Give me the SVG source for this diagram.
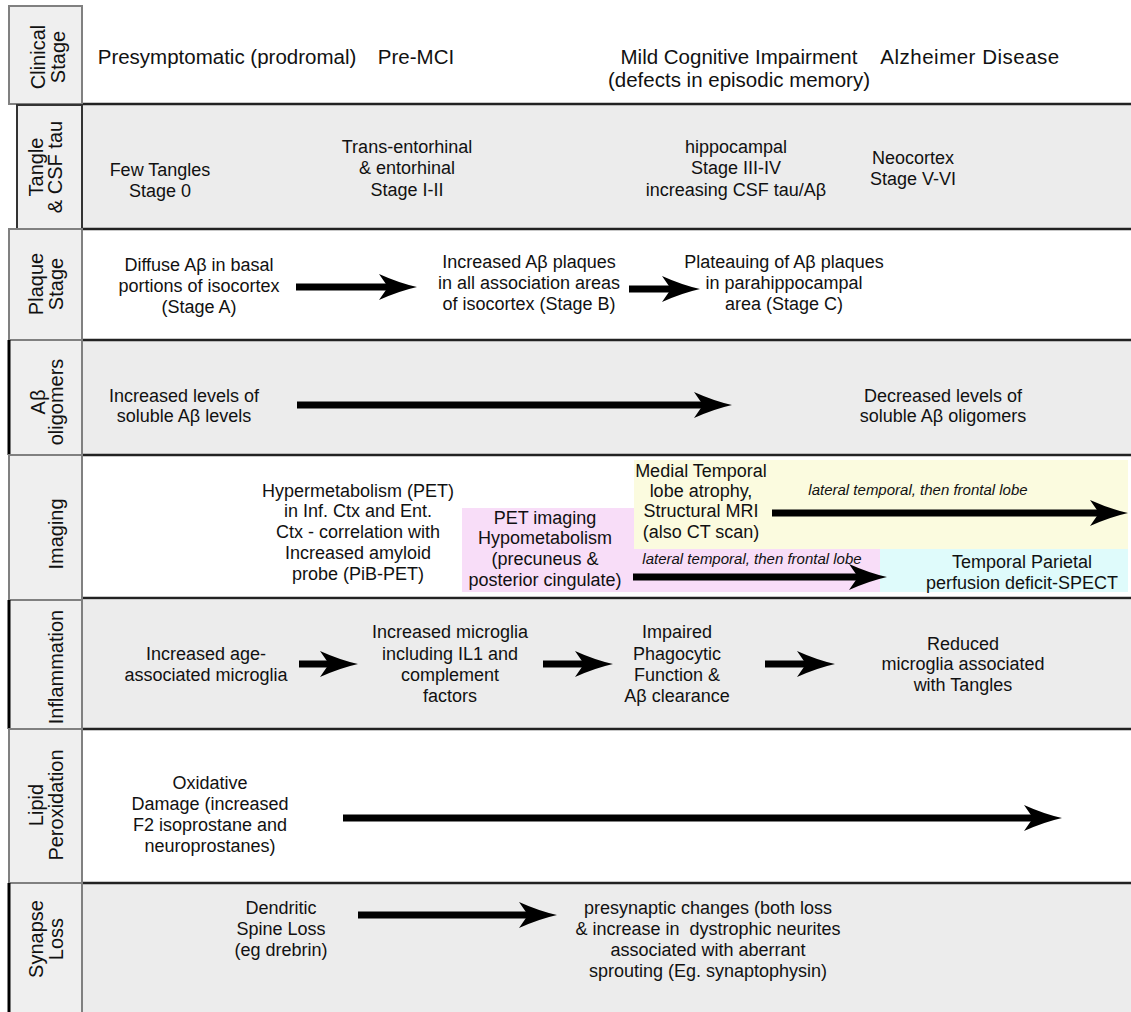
<svg xmlns="http://www.w3.org/2000/svg" width="1131" height="1012" viewBox="0 0 1131 1012">
<style>
text{font-family:"Liberation Sans",Arial,sans-serif;fill:#111;}
.b{font-size:18px;text-anchor:middle;}
.c{font-size:20.5px;text-anchor:middle;}
.lab{font-size:20px;text-anchor:middle;}
.it{font-size:15px;font-style:italic;text-anchor:middle;}
.row{stroke:#222;stroke-width:2.5;}
.gray{fill:#ececec;}
.cell{fill:#efefef;stroke:#808080;stroke-width:2;}
.dark{fill:#efefef;stroke:#333;stroke-width:2;}
.thick{stroke:#000;stroke-width:3;}
.arr{stroke:#000;stroke-width:7;fill:none;marker-end:url(#ah);}
</style>
<defs>
<marker id="ah" markerUnits="userSpaceOnUse" markerWidth="38" markerHeight="26" viewBox="0 0 38 26" refX="12" refY="13" orient="auto">
<path d="M0,0 Q20,9 38,13 Q20,17 0,26 L9,13 Z" fill="#000"/>
</marker>
</defs>
<rect width="1131" height="1012" fill="#fff"/>
<g id="row-fills">
<rect class="gray" x="82" y="105" width="1049" height="124"/>
<rect class="gray" x="82" y="341" width="1049" height="114"/>
<rect class="gray" x="82" y="600" width="1049" height="129"/>
<rect class="gray" x="82" y="883" width="1049" height="129"/>
<rect x="462" y="508" width="418" height="84" fill="#f8ddf8"/>
<rect x="634" y="460" width="494" height="89" fill="#fbfbdf"/>
<rect x="880" y="549" width="248" height="43" fill="#dffbfb"/>
</g>
<g id="row-lines">
<line class="row" x1="82" y1="104" x2="1131" y2="104"/>
<line class="row" x1="82" y1="229" x2="1131" y2="229"/>
<line class="row" x1="82" y1="340" x2="1131" y2="340"/>
<line class="row" x1="82" y1="455" x2="1131" y2="455"/>
<line class="row" x1="82" y1="598" x2="1131" y2="598"/>
<line class="row" x1="82" y1="729" x2="1131" y2="729"/>
<line class="row" x1="82" y1="883" x2="1131" y2="883"/>
</g>
<g id="label-clinical">
<rect class="cell" x="9" y="6" width="73" height="98"/>
<text class="lab" transform="translate(0,57) rotate(-90)"><tspan x="0" y="45">Clinical</tspan><tspan x="0" y="65">Stage</tspan></text>
</g>
<g id="label-tangle">
<rect class="dark" x="17" y="105" width="65" height="124"/>
<text class="lab" transform="translate(0,167) rotate(-90)"><tspan x="0" y="43">Tangle</tspan><tspan x="0" y="62">&amp; CSF tau</tspan></text>
</g>
<g id="label-plaque">
<rect class="cell" x="9" y="229" width="73" height="111"/>
<text class="lab" transform="translate(0,284) rotate(-90)"><tspan x="0" y="43">Plaque</tspan><tspan x="0" y="63">Stage</tspan></text>
</g>
<g id="label-oligomers">
<rect class="cell" x="9" y="340" width="73" height="115"/>
<line class="thick" x1="9" y1="340" x2="9" y2="455"/>
<text class="lab" transform="translate(0,402) rotate(-90)"><tspan x="0" y="45">Aβ</tspan><tspan x="0" y="63">oligomers</tspan></text>
</g>
<g id="label-imaging">
<rect class="cell" x="9" y="455" width="73" height="145"/>
<text class="lab" transform="translate(0,534) rotate(-90)"><tspan x="0" y="63">Imaging</tspan></text>
</g>
<g id="label-inflammation">
<rect class="cell" x="9" y="600" width="73" height="129"/>
<line class="thick" x1="9" y1="600" x2="9" y2="729"/>
<text class="lab" transform="translate(0,667) rotate(-90)"><tspan x="0" y="63">Inflammation</tspan></text>
</g>
<g id="label-lipid">
<rect class="cell" x="9" y="729" width="73" height="154"/>
<text class="lab" transform="translate(0,805) rotate(-90)"><tspan x="0" y="43">Lipid</tspan><tspan x="0" y="63">Peroxidation</tspan></text>
</g>
<g id="label-synapse">
<rect class="cell" x="9" y="883" width="73" height="135"/>
<line class="thick" x1="9" y1="883" x2="9" y2="1012"/>
<text class="lab" transform="translate(0,939) rotate(-90)"><tspan x="0" y="43">Synapse</tspan><tspan x="0" y="63">Loss</tspan></text>
</g>
<g id="clinical">
<text class="c" x="227" y="64">Presymptomatic (prodromal)</text>
<text class="c" x="416" y="64">Pre-MCI</text>
<text class="c" x="739" y="64">Mild Cognitive Impairment</text>
<text class="c" x="739" y="87">(defects in episodic memory)</text>
<text class="c" x="970" y="64" font-size="21" letter-spacing="0.5">Alzheimer Disease</text>
</g>
<g id="tangle">
<text class="b"><tspan x="160" y="176">Few Tangles</tspan><tspan x="160" y="197">Stage 0</tspan></text>
<text class="b"><tspan x="407" y="153">Trans-entorhinal</tspan><tspan x="407" y="174">&amp; entorhinal</tspan><tspan x="407" y="196">Stage I-II</tspan></text>
<text class="b"><tspan x="736" y="153">hippocampal</tspan><tspan x="736" y="174">Stage III-IV</tspan><tspan x="736" y="196">increasing CSF tau/Aβ</tspan></text>
<text class="b"><tspan x="913" y="164">Neocortex</tspan><tspan x="913" y="185">Stage V-VI</tspan></text>
</g>
<g id="plaque">
<text class="b"><tspan x="199" y="271">Diffuse Aβ in basal</tspan><tspan x="199" y="292">portions of isocortex</tspan><tspan x="199" y="313">(Stage A)</tspan></text>
<text class="b"><tspan x="529" y="268">Increased Aβ plaques</tspan><tspan x="529" y="289">in all association areas</tspan><tspan x="529" y="310">of isocortex (Stage B)</tspan></text>
<text class="b"><tspan x="784" y="268">Plateauing of Aβ plaques</tspan><tspan x="784" y="289">in parahippocampal</tspan><tspan x="784" y="310">area (Stage C)</tspan></text>
</g>
<g id="oligomers">
<text class="b"><tspan x="184" y="402">Increased levels of</tspan><tspan x="184" y="422">soluble Aβ levels</tspan></text>
<text class="b"><tspan x="943" y="402">Decreased levels of</tspan><tspan x="943" y="422">soluble Aβ oligomers</tspan></text>
</g>
<g id="imaging">
<text class="b"><tspan x="358" y="497">Hypermetabolism (PET)</tspan><tspan x="358" y="517">in Inf. Ctx and Ent.</tspan><tspan x="358" y="538">Ctx - correlation with</tspan><tspan x="358" y="559">Increased amyloid</tspan><tspan x="358" y="580">probe (PiB-PET)</tspan></text>
<text class="b"><tspan x="545" y="524">PET imaging</tspan><tspan x="545" y="544">Hypometabolism</tspan><tspan x="545" y="565">(precuneus &amp;</tspan><tspan x="545" y="586">posterior cingulate)</tspan></text>
<text class="b"><tspan x="701" y="477">Medial Temporal</tspan><tspan x="701" y="497">lobe atrophy,</tspan><tspan x="701" y="517">Structural MRI</tspan><tspan x="701" y="538">(also CT scan)</tspan></text>
<text class="it" x="918" y="495">lateral temporal, then frontal lobe</text>
<text class="it" x="752" y="564">lateral temporal, then frontal lobe</text>
<text class="b"><tspan x="1022" y="568">Temporal Parietal</tspan><tspan x="1022" y="589">perfusion deficit-SPECT</tspan></text>
</g>
<g id="inflammation">
<text class="b"><tspan x="206" y="660">Increased age-</tspan><tspan x="206" y="681">associated microglia</tspan></text>
<text class="b"><tspan x="450" y="638">Increased microglia</tspan><tspan x="450" y="660">including IL1 and</tspan><tspan x="450" y="681">complement</tspan><tspan x="450" y="702">factors</tspan></text>
<text class="b"><tspan x="677" y="638">Impaired</tspan><tspan x="677" y="660">Phagocytic</tspan><tspan x="677" y="681">Function &amp;</tspan><tspan x="677" y="702">Aβ clearance</tspan></text>
<text class="b"><tspan x="963" y="650">Reduced</tspan><tspan x="963" y="670">microglia associated</tspan><tspan x="963" y="691">with Tangles</tspan></text>
</g>
<g id="lipid">
<text class="b"><tspan x="210" y="789">Oxidative</tspan><tspan x="210" y="810">Damage (increased</tspan><tspan x="210" y="831">F2 isoprostane and</tspan><tspan x="210" y="852">neuroprostanes)</tspan></text>
</g>
<g id="synapse">
<text class="b"><tspan x="281" y="914">Dendritic</tspan><tspan x="281" y="935">Spine Loss</tspan><tspan x="281" y="956">(eg drebrin)</tspan></text>
<text class="b" xml:space="preserve"><tspan x="708" y="914">presynaptic changes (both loss</tspan><tspan x="708" y="935">&amp; increase in  dystrophic neurites</tspan><tspan x="708" y="956">associated with aberrant</tspan><tspan x="708" y="977">sprouting (Eg. synaptophysin)</tspan></text>
</g>
<g id="connectors">
<line class="arr" x1="296" y1="287" x2="391" y2="287"/>
<line class="arr" x1="629" y1="289" x2="674" y2="289"/>
<line class="arr" x1="297" y1="405" x2="706" y2="405"/>
<line class="arr" x1="772" y1="513" x2="1102" y2="513"/>
<line class="arr" x1="633" y1="577" x2="861" y2="577"/>
<line class="arr" x1="299" y1="664" x2="332" y2="664"/>
<line class="arr" x1="543" y1="664" x2="587" y2="664"/>
<line class="arr" x1="765" y1="664" x2="809" y2="664"/>
<line class="arr" x1="343" y1="818" x2="1036" y2="818"/>
<line class="arr" x1="358" y1="915" x2="531" y2="915"/>
</g>
</svg>
